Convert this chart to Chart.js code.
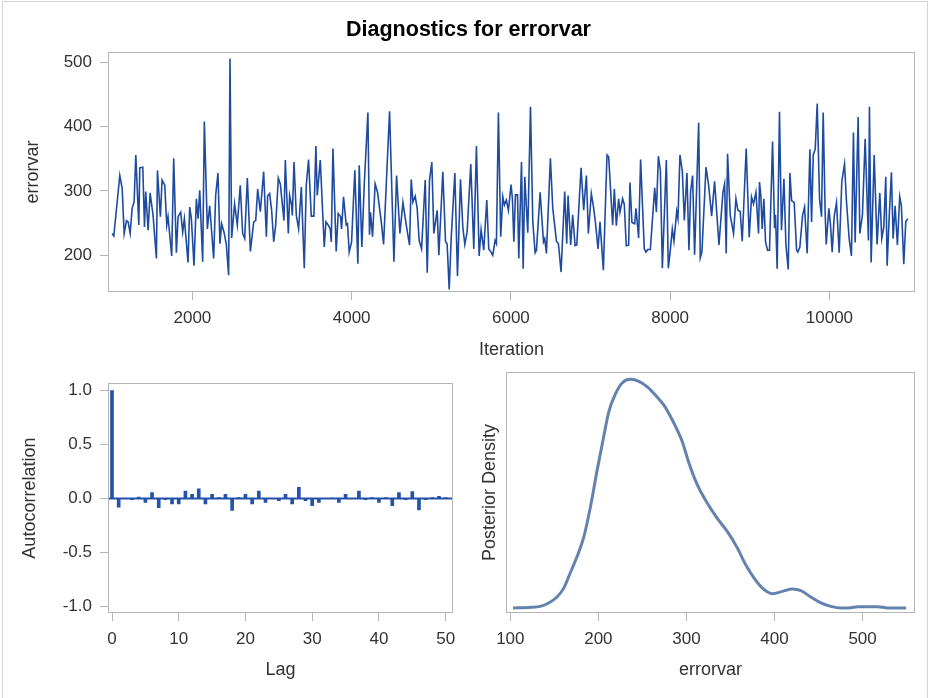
<!DOCTYPE html>
<html><head><meta charset="utf-8">
<script src="https://cdn.jsdelivr.net/npm/chart.js@4/dist/chart.umd.min.js"></script>
<style>
html,body{margin:0;padding:0;background:#fff;}
body{width:929px;height:698px;position:relative;overflow:hidden;}
#frame{position:absolute;left:2px;top:1px;width:926px;height:700px;border:1px solid #d4d4d4;box-sizing:border-box;}
.c{position:absolute;}
</style></head><body>
<div id="frame"></div>
<canvas class="c" id="trace" width="929" height="365" style="left:0;top:0;"></canvas>
<canvas class="c" id="acf" width="470" height="333" style="left:0;top:365px;"></canvas>
<canvas class="c" id="dens" width="459" height="333" style="left:470px;top:365px;"></canvas>
<script>
// ---------- Trace plot data ----------
const traceIterations = [
  992,1013,1088,1118,1143,1172,1193,1218,1243,1268,1289,1327,1339,1377,1398,1414,1444,1469,1506,1548,
  1561,1598,1619,1653,1678,1694,1740,1765,1799,1820,1853,1878,1899,1945,1966,1987,2020,2050,2071,2092,
  2129,2150,2188,2217,2267,2292,2321,2346,2367,2397,2426,2455,2472,2493,2530,2564,2601,2631,
  2657,2690,2728,2770,2795,2820,2853,2895,2929,2945,2970,2995,3021,3046,3079,3104,3129,3150,3167,3205,
  3221,3246,3255,3276,3305,3334,3368,3405,3430,3459,3493,3526,3551,3568,3606,3656,3677,3706,3731,3744,
  3765,3806,3831,3861,3873,3898,3932,3948,3969,3999,4040,4078,4095,4128,4158,4204,4224,4237,4262,4295,4325,
  4372,4401,4476,4531,4564,4606,4644,4690,4727,4748,4769,4798,4823,4848,4878,4924,4949,4978,5007,5032,
  5074,5095,5145,5179,5199,5225,5250,5296,5329,5367,5396,5421,5450,5496,5534,5567,5601,5626,5659,5697,
  5722,5751,5772,5801,5818,5843,5872,5898,5918,5943,5969,6002,6019,
  6037,6057,6083,6099,6133,6154,6174,6212,6246,6275,6304,6321,6367,6409,6425,6446,6496,6526,6572,6597,
  6630,6676,6701,6718,6751,6776,6806,6827,6881,6914,6948,6973,7010,7040,7061,7094,7119,7161,7207,7228,
  7278,7299,7324,7353,7370,7403,7424,7449,7479,7495,7520,7554,7571,7604,7629,7675,7696,
  7718,7751,7806,7827,7852,7877,7902,7952,7977,8002,8027,8048,8082,8098,8123,8153,8178,8211,8236,8257,
  8282,8307,8358,8378,8399,8450,8483,8521,8558,8613,8663,8684,8704,8721,8755,8796,8826,8851,8880,8905,
  8955,8993,9022,9047,9077,9110,9122,9139,9156,9177,9198,9223,9248,9286,9311,9323,9344,9373,9398,
  9429,9454,9483,9504,9525,9558,9588,9604,9629,9663,9688,9721,9755,9776,9797,9822,9847,9876,9901,9922,
  9947,9960,9993,10014,10035,10060,10089,10123,10156,10190,10215,10248,10277,10302,10323,10361,10382,10415,10449,10490,
  10503,10524,10562,10599,10633,10658,10683,10708,10725,10750,10779,10800,10825,10854,10883,10904,10934,10959,10984
];
const traceErrorvar = [
  234,230,324,304,234,254,252,234,273,283,356,247,336,337,244,299,239,297,262,195,
  332,260,317,309,247,260,199,351,204,260,267,236,257,189,275,257,184,288,257,301,
  190,408,241,277,195,293,328,218,249,236,217,169,506,227,280,247,309,234,
  226,320,206,252,254,303,268,330,229,292,296,270,221,247,320,311,280,254,348,234,
  293,278,262,345,262,241,306,180,309,349,261,261,370,293,348,213,252,247,241,221,
  366,206,265,260,241,291,247,249,205,221,332,187,340,213,309,422,232,267,229,311,298,
  252,217,424,190,324,234,282,244,216,318,283,292,273,223,210,317,173,317,345,234,
  270,200,330,221,218,147,226,328,168,318,244,217,236,342,210,370,199,240,208,286,
  210,205,200,223,218,422,229,291,278,286,270,310,288,
  221,294,294,195,345,179,322,235,431,252,204,208,298,221,226,203,351,273,222,218,
  174,299,218,293,216,263,215,216,336,270,324,234,296,273,252,210,252,177,356,353,
  247,303,246,288,267,288,279,215,216,313,251,249,273,227,349,210,205,
  209,209,305,267,354,332,180,348,180,208,241,222,268,257,356,330,254,328,208,299,
  324,201,406,196,205,337,309,261,315,216,298,311,203,358,262,234,288,270,268,222,
  366,228,291,280,298,234,314,293,241,288,221,208,208,377,242,263,179,423,239,
  319,216,178,328,285,282,208,205,213,262,275,203,365,252,356,365,436,288,260,422,
  265,217,273,247,205,260,282,204,315,342,283,226,199,391,220,415,234,263,381,223,
  431,189,356,217,297,226,244,322,184,257,329,226,277,216,291,277,186,252,257
];
const traceXTicks = [2000, 4000, 6000, 8000, 10000];
const traceYTicks = [200, 300, 400, 500];

// ---------- Autocorrelation data ----------
const acfLags = [0,1,2,3,4,5,6,7,8,9,10,11,12,13,14,15,16,17,18,19,20,21,22,23,24,25,26,27,28,29,30,31,32,33,34,35,36,37,38,39,40,41,42,43,44,45,46,47,48,49,50];
const acfValues = [1.0,-0.08,0.0,-0.01,0.015,-0.035,0.055,-0.085,-0.01,-0.05,-0.05,
  0.07,0.04,0.09,-0.05,0.04,0.01,0.04,-0.11,0.01,0.04,
  -0.05,0.07,-0.035,0.0,-0.02,0.04,-0.05,0.105,-0.02,-0.065,
  -0.035,0.0,0.005,-0.035,0.04,0.0,0.07,-0.01,0.01,-0.035,
  0.01,-0.065,0.055,-0.01,0.065,-0.105,-0.01,0.01,0.02,0.01];
const acfXTicks = [0, 10, 20, 30, 40, 50];
const acfYTicks = [-1, -0.5, 0, 0.5, 1];

// ---------- Posterior density data ----------
const densityErrorvar = [103,123,134,143.6,153,160.7,168,175.8,183.4,191,198.6,206,211.8,219.5,227,236.5,246,255.5,265,274.4,
  282,289.6,295.3,303,312.4,323.7,335,346.5,357.9,367.3,376.8,386.3,397.7,409,420.4,429.9,441.3,452.7,464,475.4,486.8,494.4,517,528.5,549.4];
const densityValues = [0,0.003,0.007,0.022,0.048,0.087,0.153,0.225,0.31,0.443,0.603,0.749,0.858,0.9375,0.984,1.0,0.991,0.967,0.93,0.887,
  0.836,0.778,0.727,0.632,0.538,0.458,0.392,0.334,0.262,0.189,0.131,0.087,0.0625,0.0727,0.083,0.0756,0.048,0.022,0.007,0,0.0015,0.006,0.006,0,0];
const densityXTicks = [100, 200, 300, 400, 500];

// ---------- styling ----------
const FONT = "'Liberation Sans', Arial, Helvetica, sans-serif";
Chart.defaults.font.family = FONT;
Chart.defaults.color = '#333';
Chart.defaults.animation = false;
const AXIS = '#b3b6b9';
const TICKFONT = {size: 17};
const TITLEFONT = {size: 18};

const boxPlugin = {
  id: 'box',
  afterDraw(chart) {
    const a = chart.chartArea, ctx = chart.ctx;
    ctx.save();
    ctx.strokeStyle = AXIS; ctx.lineWidth = 1;
    ctx.strokeRect(Math.round(a.left) + 0.5, Math.round(a.top) + 0.5, Math.round(a.right - a.left) - 1, Math.round(a.bottom - a.top) - 1);
    ctx.restore();
  }
};
const zeroLinePlugin = {
  id: 'zeroLine',
  beforeDatasetsDraw(chart) {
    const a = chart.chartArea, ctx = chart.ctx;
    const y = chart.scales.y.getPixelForValue(0);
    ctx.save();
    ctx.strokeStyle = '#2352a8'; ctx.lineWidth = 2;
    ctx.beginPath(); ctx.moveTo(a.left, y); ctx.lineTo(a.right, y); ctx.stroke();
    ctx.restore();
  }
};

function fixedTicks(arr) { return s => { s.ticks = arr.map(v => ({value: v})); }; }
function xAxis(o) {
  return {
    type: 'linear', min: o.min, max: o.max, offset: false,
    afterBuildTicks: fixedTicks(o.ticks),
    afterFit: s => { s.height = o.h; },
    border: {display: false},
    grid: {offset: false, drawOnChartArea: false, drawTicks: true, tickLength: 8, color: AXIS},
    ticks: {font: TICKFONT, color: '#333', padding: 8, maxRotation: 0, autoSkip: false,
            callback: o.fmt || (v => String(v))},
    title: {display: true, text: o.title, font: TITLEFONT, color: '#333', padding: {top: 0, bottom: o.tpad}}
  };
}
function yAxis(o) {
  return {
    type: 'linear', min: o.min, max: o.max,
    afterBuildTicks: fixedTicks(o.ticks || []),
    afterFit: s => { s.width = o.w; },
    border: {display: false},
    grid: {offset: false, drawOnChartArea: false, drawTicks: !!o.ticks, tickLength: 8, color: AXIS},
    ticks: {display: !!o.ticks, font: TICKFONT, color: '#333', padding: 8, autoSkip: false,
            callback: o.fmt || (v => String(v))},
    title: {display: true, text: o.title, font: TITLEFONT, color: '#333', padding: {top: o.tpad, bottom: 0}}
  };
}

// ---------- Trace ----------
new Chart(document.getElementById('trace'), {
  type: 'line',
  data: {datasets: [{
    data: traceIterations.map((x, i) => ({x: x, y: traceErrorvar[i]})),
    borderColor: '#1e4b9f', borderWidth: 1.6, pointRadius: 0, tension: 0, fill: false
  }]},
  options: {
    responsive: false,
    layout: {padding: {left: 22, right: 14, top: 0, bottom: 0}},
    plugins: {
      legend: {display: false}, tooltip: {enabled: false},
      title: {display: true, text: 'Diagnostics for errorvar', color: '#000',
              font: {size: 21.5, weight: 'bold'}, padding: {top: 17, bottom: 9.2}}
    },
    scales: {
      x: xAxis({min: 940, max: 11075, ticks: traceXTicks, h: 73, title: 'Iteration', tpad: 4}),
      y: yAxis({min: 143, max: 516, ticks: traceYTicks, w: 86, title: 'errorvar', tpad: 0})
    }
  },
  plugins: [boxPlugin]
});

// ---------- Autocorrelation ----------
new Chart(document.getElementById('acf'), {
  type: 'bar',
  data: {datasets: [{
    data: acfLags.map((l, i) => ({x: l, y: acfValues[i]})),
    backgroundColor: '#2352a8', borderWidth: 0, barThickness: 3
  }]},
  options: {
    responsive: false,
    layout: {padding: {left: 0, right: 17, top: 10, bottom: 0}},
    plugins: {legend: {display: false}, tooltip: {enabled: false}},
    scales: {
      x: xAxis({min: -0.6, max: 51.1, ticks: acfXTicks, h: 85, title: 'Lag', tpad: 17}),
      y: yAxis({min: -1.06, max: 1.069, ticks: acfYTicks, w: 108, title: 'Autocorrelation', tpad: 19,
                fmt: v => v.toFixed(1)})
    }
  },
  plugins: [zeroLinePlugin, boxPlugin]
});

// ---------- Posterior density ----------
new Chart(document.getElementById('dens'), {
  type: 'line',
  data: {datasets: [{
    data: densityErrorvar.map((x, i) => ({x: x, y: densityValues[i]})),
    borderColor: '#6482ae', borderWidth: 3, pointRadius: 0,
    tension: 0.4, cubicInterpolationMode: 'monotone', fill: false
  }]},
  options: {
    responsive: false,
    layout: {padding: {left: 0, right: 14, top: 7, bottom: 0}},
    plugins: {legend: {display: false}, tooltip: {enabled: false}},
    scales: {
      x: xAxis({min: 95.1, max: 559.5, ticks: densityXTicks, h: 85, title: 'errorvar', tpad: 17}),
      y: yAxis({min: -0.0218, max: 1.032, w: 36, title: 'Posterior Density', tpad: 9})
    }
  },
  plugins: [boxPlugin]
});
</script>
</body></html>
